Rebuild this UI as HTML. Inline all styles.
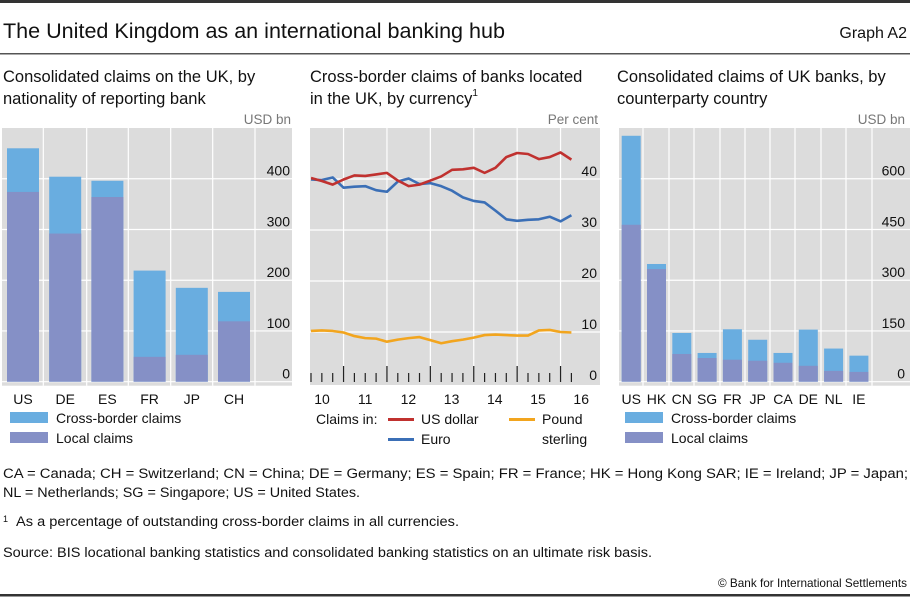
<!DOCTYPE html>
<html><head><meta charset="utf-8"><style>
body{margin:0;background:#fff;}
svg{display:block;font-family:"Liberation Sans",sans-serif;}
</style></head><body>
<svg id="c" width="910" height="600" viewBox="0 0 910 600">
<rect x="0" y="0" width="910" height="3" fill="#333"/>
<text x="3" y="38" font-size="21" fill="#111" textLength="502" lengthAdjust="spacingAndGlyphs">The United Kingdom as an international banking hub</text>
<text x="907" y="38" font-size="16" text-anchor="end" fill="#111">Graph A2</text>
<rect x="0" y="53" width="910" height="1.5" fill="#555"/>
<g font-size="16.5" fill="#111">
<text x="3" y="82">Consolidated claims on the UK, by</text>
<text x="3" y="104">nationality of reporting bank</text>
<text x="310" y="82">Cross-border claims of banks located</text>
<text x="310" y="104">in the UK, by currency<tspan font-size="10" dy="-8">1</tspan></text>
<text x="617" y="82">Consolidated claims of UK banks, by</text>
<text x="617" y="104">counterparty country</text>
</g>
<g font-size="13.5" fill="#777" text-anchor="end">
<text x="291" y="124">USD bn</text>
<text x="598" y="124">Per cent</text>
<text x="905" y="124">USD bn</text>
</g>
<g id="left"></g>
<g id="mid"></g>
<g id="right"></g>
<g font-size="14" fill="#111">
<rect x="10" y="412" width="38" height="11" fill="#69ade0"/>
<text x="56" y="423">Cross-border claims</text>
<rect x="10" y="432" width="38" height="11" fill="#8590c6"/>
<text x="56" y="443">Local claims</text>
<rect x="625" y="412" width="38" height="11" fill="#69ade0"/>
<text x="671" y="423">Cross-border claims</text>
<rect x="625" y="432" width="38" height="11" fill="#8590c6"/>
<text x="671" y="443">Local claims</text>
<text x="316" y="424">Claims in:</text>
<rect x="388" y="418" width="26" height="3" fill="#c0312f"/>
<text x="421" y="424">US dollar</text>
<rect x="388" y="438" width="26" height="3" fill="#3b6fb6"/>
<text x="421" y="444">Euro</text>
<rect x="509" y="418" width="26" height="3" fill="#f2a51e"/>
<text x="542" y="424">Pound</text>
<text x="542" y="444">sterling</text>
</g>
<g font-size="13.5" fill="#111">
<text x="3" y="478" textLength="905" lengthAdjust="spacingAndGlyphs">CA = Canada; CH = Switzerland; CN = China; DE = Germany; ES = Spain; FR = France; HK = Hong Kong SAR; IE = Ireland; JP = Japan;</text>
<text x="3" y="497" textLength="357" lengthAdjust="spacingAndGlyphs">NL = Netherlands; SG = Singapore; US = United States.</text>
<text x="3" y="522" font-size="9">1</text>
<text x="16" y="526" textLength="443" lengthAdjust="spacingAndGlyphs">As a percentage of outstanding cross-border claims in all currencies.</text>
<text x="3" y="557" textLength="649" lengthAdjust="spacingAndGlyphs">Source: BIS locational banking statistics and consolidated banking statistics on an ultimate risk basis.</text>
<text x="907" y="587" font-size="12" text-anchor="end" textLength="189" lengthAdjust="spacingAndGlyphs">© Bank for International Settlements</text>
</g>
<rect x="0" y="594" width="910" height="2.5" fill="#333"/>
</svg>
<script>
const leftCats=["US","DE","ES","FR","JP","CH"];
const leftTotal=[460,404,396,219,185,177];
const leftLocal=[374,292,364,49,53,119];
const leftTicks=[0,100,200,300,400];
const rightCats=["US","HK","CN","SG","FR","JP","CA","DE","NL","IE"];
const rightTotal=[727,348,144,85,155,124,85,154,98,77];
const rightLocal=[464,333,82,70,65,62,56,47,32,29];
const rightTicks=[0,150,300,450,600];
const usd=[40.2,39.6,38.9,39.9,40.7,40.6,40.9,41.2,39.7,38.6,38.9,39.7,40.5,41.8,41.9,42.2,41.2,42.2,44.3,45.1,44.9,43.9,44.3,45.2,43.8];
const eur=[39.9,39.8,40.3,38.3,38.5,38.6,37.8,37.5,39.5,40.1,39.0,39.2,38.6,37.7,36.4,35.7,35.4,33.8,32.1,31.8,32.0,32.1,32.6,31.7,32.9];
const gbp=[10.2,10.3,10.2,9.9,9.2,8.8,8.7,8.1,8.5,8.8,9.0,8.4,7.8,8.2,8.5,8.9,9.4,9.5,9.4,9.3,9.3,10.3,10.4,10.0,9.9];
const midTicks=[0,10,20,30,40];
const years=["10","11","12","13","14","15","16"];

const NS="http://www.w3.org/2000/svg";
function mk(p,t,a){const e=document.createElementNS(NS,t);for(const k in a)e.setAttribute(k,a[k]);p.appendChild(e);return e;}

function barPanel(g,cats,tot,loc,ticks,x0,x1,yMax,pitch,bw,first,gridX,labX,nm){
  const y0=381.7,yTop=128;
  const ys=v=>y0-v/yMax*(y0-yTop);
  const bg=mk(g,'rect',{x:x0,y:yTop,width:x1-x0,height:y0-yTop+4,fill:'#dcdcdc'});
  
  
  ticks.forEach(t=>{
    const l=mk(g,'line',{x1:x0,x2:x1,y1:ys(t),y2:ys(t),stroke:'#fff','stroke-width':1.2});
    
    
    const tx=mk(g,'text',{x:labX,y:ys(t)-3,'font-size':14,'text-anchor':'end',fill:'#111'});
    tx.textContent=t;
    
    
  });
  gridX.forEach(x=>{
    const l=mk(g,'line',{x1:x,x2:x,y1:yTop,y2:y0+4,stroke:'#fff','stroke-width':1.2});
    
    
  });
  cats.forEach((c,i)=>{
    const cx=first+i*pitch;
    const b1=mk(g,'rect',{x:cx-bw/2,y:ys(tot[i]),width:bw,height:ys(0)-ys(tot[i]),fill:'#69ade0'});
    
    
    const b2=mk(g,'rect',{x:cx-bw/2,y:ys(loc[i]),width:bw,height:ys(0)-ys(loc[i]),fill:'#8590c6'});
    
    
    const t=mk(g,'text',{x:cx,y:404,'font-size':14,'text-anchor':'middle',fill:'#111'});
    t.textContent=c;
    
    
  });
}
barPanel(document.getElementById('left'),leftCats,leftTotal,leftLocal,leftTicks,2,292,500,42.2,32,23,[43.3,86.7,128.3,170.7,212.7,255],290,'left');
barPanel(document.getElementById('right'),rightCats,rightTotal,rightLocal,rightTicks,619,910,750,25.3,19,631.2,[643,669,694,720,745,770,795,821,846,872],905,'right');

(function(){
  const g=document.getElementById('mid');
  const x0=310,x1=600,y0=383,yTop=128;
  const ys=v=>y0-v*5.1;
  const xs=i=>311+i*10.85;
  const bg=mk(g,'rect',{x:x0,y:yTop,width:x1-x0,height:y0-yTop+2,fill:'#dcdcdc'});
  
  
  midTicks.forEach(t=>{
    if(t>0){const l=mk(g,'line',{x1:x0,x2:x1,y1:ys(t),y2:ys(t),stroke:'#fff','stroke-width':1.2});
    
    }
    const tx=mk(g,'text',{x:597,y:ys(t)-3,'font-size':14,'text-anchor':'end',fill:'#111'});
    tx.textContent=t;
    
    
  });
  for(let i=0;i<usd.length;i++){
    const major=(i%4===3);
    if(major){const v=mk(g,'line',{x1:xs(i),x2:xs(i),y1:yTop,y2:366,stroke:'#fff','stroke-width':1.2});
      
      }
    const t=mk(g,'line',{x1:xs(i),x2:xs(i),y1:major?366:373,y2:382,stroke:'#222','stroke-width':1.2});
    
    
  }
  years.forEach((y,k)=>{
    const t=mk(g,'text',{x:322+k*43.2,y:404,'font-size':14,'text-anchor':'middle',fill:'#111'});
    t.textContent=y;
    
    
  });
  [[gbp,'#f2a51e','line-pound-sterling'],[eur,'#3b6fb6','line-euro'],[usd,'#c0312f','line-us-dollar']].forEach(([s,c,n])=>{
    const p=mk(g,'polyline',{points:s.map((v,i)=>xs(i)+','+ys(v)).join(' '),fill:'none',stroke:c,'stroke-width':2.6,'stroke-linejoin':'round'});
    
    
  });
})();
</script>
</body></html>
